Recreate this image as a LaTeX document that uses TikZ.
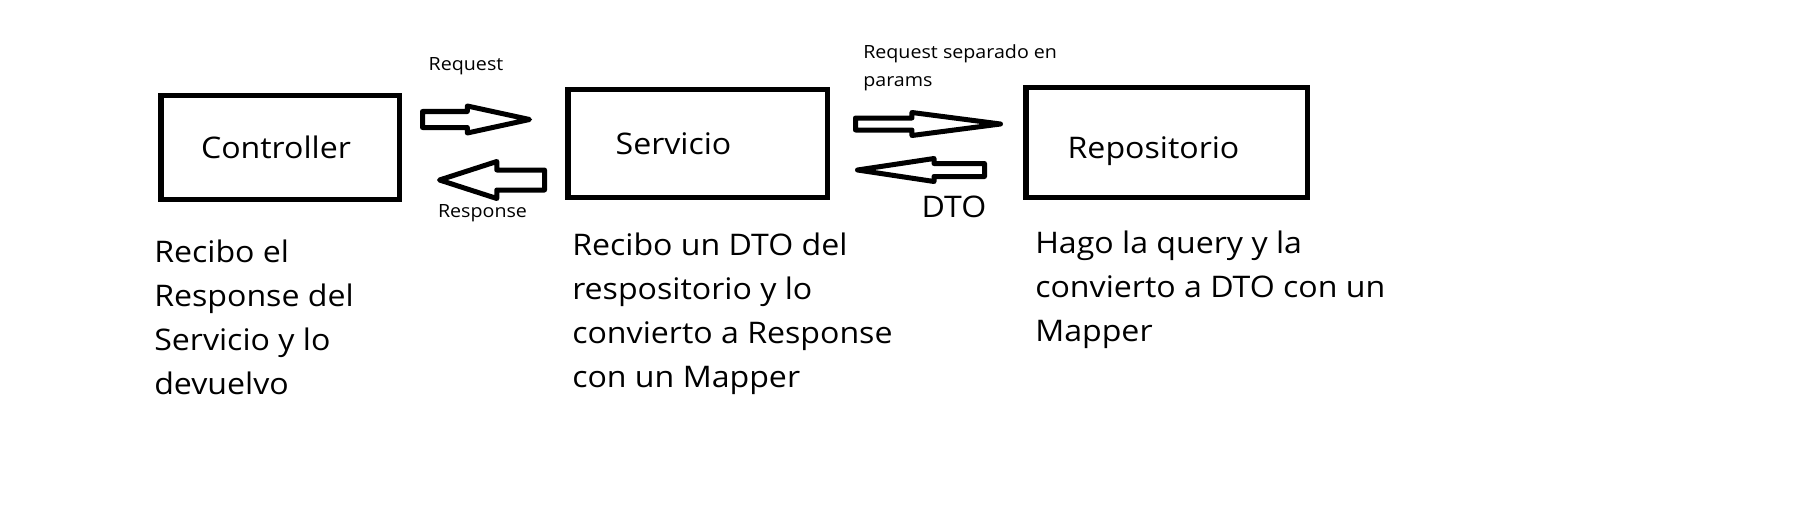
\documentclass[tikz,border=0pt]{standalone}
\usepackage{fontspec}
\setmainfont[FakeStretch=1.08]{Open Sans}
\usepackage{tikz}
\usetikzlibrary{shapes.arrows,positioning}
\newdimen\pxu \pxu=0.75pt
\tikzset{
  box/.style    ={rectangle, draw=black, line width=5.5\pxu, inner sep=0pt, outer sep=0pt},
  boxtxt/.style ={font=\fontsize{22.3}{33}\selectfont, inner sep=0pt},
  desc/.style   ={font=\fontsize{22.3}{33}\selectfont, align=left, inner sep=0pt,
                  anchor=base west},
  lbl/.style    ={font=\fontsize{13.65}{20.5}\selectfont, align=left, inner sep=0pt},
  fat/.style    ={single arrow, draw=black, line width=5\pxu, fill=white,
                  line join=round, inner xsep=0pt, outer sep=0pt, minimum width=0pt},
}
\begin{document}
\begin{tikzpicture}[x=0.75pt, y=-0.75pt]
  \path[fill=white] (0,0) rectangle (1817,528);
  % the three layers
  \node[box, minimum width=238.5\pxu, minimum height=103.5\pxu] (ctrl) at (280,147.5) {};
  \node[box, minimum width=259.5\pxu, minimum height=107.5\pxu] (serv) at (697.5,143.5) {};
  \node[box, minimum width=281.5\pxu, minimum height=109.5\pxu] (repo) at (1166.5,142.5) {};
  \node[boxtxt, anchor=base] (ctrlT) at (276,158) {Controller};
  \node[boxtxt, anchor=base] (servT) at (673.5,154) {Servicio};
  \node[boxtxt, anchor=base] (repoT) at (1153.5,158) {Repositorio};
  % what each layer does (base = last line)
  \node[desc] (ctrlD) at (154,394) {Recibo el\\Response del\\Servicio y lo\\devuelvo};
  \node[desc] (servD) at (572,387) {Recibo un DTO del\\respositorio y lo\\convierto a Response\\con un Mapper};
  \node[desc] (repoD) at (1035,341) {Hago la query y la\\convierto a DTO con un\\Mapper};
  % hollow arrows between the layers
  \node[fat, anchor=tail, inner ysep=5.5\pxu, single arrow head extend=5.5\pxu,
        single arrow tip angle=24.5, minimum height=107\pxu] (reqA) at (422.5,119.5) {};
  \node[fat, shape border rotate=180, anchor=tip, inner ysep=7.5\pxu,
        single arrow head extend=8.5\pxu, single arrow tip angle=35.8,
        minimum height=105\pxu] (respA) at (439.5,180) {};
  \node[fat, anchor=tail, inner ysep=3.5\pxu, single arrow head extend=5.5\pxu,
        single arrow tip angle=14.8, minimum height=145\pxu] (paramsA) at (855.5,124) {};
  \node[fat, shape border rotate=180, anchor=tip, inner ysep=4\pxu,
        single arrow head extend=5\pxu, single arrow tip angle=17.1,
        minimum height=127\pxu] (dtoA) at (857.5,170) {};
  \node[lbl, anchor=base] (reqL) at (466,71) {Request};
  \node[lbl, anchor=base] (respL) at (482.5,217) {Response};
  \node[lbl, anchor=base west] (paramsL) at (863,86.3) {Request separado en\\params};
  \node[boxtxt, anchor=base] (dtoL) at (954,217) {DTO};
\end{tikzpicture}
\end{document}
